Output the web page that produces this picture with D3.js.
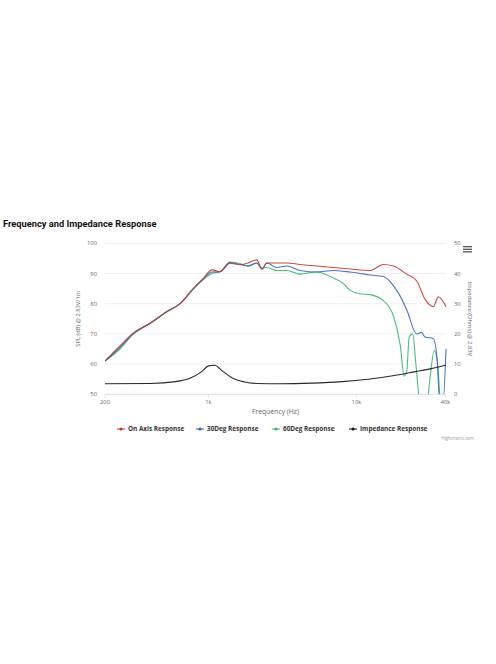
<!DOCTYPE html>
<html><head><meta charset="utf-8">
<script src="https://cdn.jsdelivr.net/npm/d3@7"></script>
<style>body{margin:0;background:#fff;font-family:"Open Sans",sans-serif}</style>
</head><body>
<svg id="c" width="496" height="664"></svg>
<script>
// data
var onFreq = [200,252,311,403,522,643,790,923,1057,1197,1399,1634,1850,2119,2300,2476,2891,3380,4160,5385,6980,9040,12350,15200,17750,21860,25540,29050,33050,35750,40270];
var onVals = [61,66,70.3,73.5,77.4,80,85,88.4,91.2,90.6,93.4,92.9,93.5,94.5,91.5,93.5,93.5,93.5,93,92.5,92,91.5,91,93,92.5,89.8,87.5,81.5,79,82.3,79];
var d30Freq = [200,252,311,403,522,643,790,923,1057,1197,1399,1634,1850,2119,2300,2476,2891,3380,4160,5385,6980,9040,12350,15200,17750,19500,21860,25540,27500,29050,33050,35000,36500,38500,40270];
var d30Vals = [61,65.5,70,73.5,77.3,80,85,88.2,90.5,90.6,93.6,93,92.5,93.5,91.5,93.5,92,92.5,91,90.5,91,90.5,89.5,89,86,83,78,70,70.5,69,68.5,62,48,48,65];
var d60Freq = [200,252,311,403,522,643,790,923,1057,1197,1399,1634,1850,2119,2300,2476,2891,3380,4160,5385,6980,8000,9040,10500,12350,15200,17750,19800,21000,21900,22700,24000,25200,26500,28000,29500,31500,33500,35000,36500];
var d60Vals = [61,65,70,73.5,77.2,80,84.8,88,90,90.6,93.8,93.3,92.5,93.5,91.8,92,91,91,89.8,90.5,88.5,87,84.5,83.3,83,81,76,66,56,58,69,70,60,49,45,45,56,64.5,62,50];
var impFreq = [200,400,600,750,900,1000,1100,1250,1450,1750,2150,3000,5000,8000,12000,18000,25000,32000,40270];
var impVals = [3.5,3.6,4.2,5.3,7.5,9.4,9.6,7.6,5.4,4.1,3.6,3.5,3.7,4.2,5,6.2,7.5,8.5,9.7];
var yTicks = [50,60,70,80,90,100];
var y2Ticks = [0,10,20,30,40,50];
var xTicks = [200,1000,10000,40000];
var xTickLabels = ["200","1k","10k","40k"];
var seriesNames = ["On Axis Response","30Deg Response","60Deg Response","Impedance Response"];
var seriesColors = ["#c0392b","#3b63b8","#3cb371","#111"];

var svg = d3.select("#c");
var L = 105, R = 446, T = 243.3, B = 394.3;
var x = d3.scaleLog().domain([200,40270]).range([L,R]);
var y = d3.scaleLinear().domain([50,100]).range([B,T]);
var y2 = d3.scaleLinear().domain([0,50]).range([B,T]);

svg.append("text").attr("x",3).attr("y",227).attr("font-size",9.3).attr("font-weight","bold")
  .attr("font-family","Roboto, sans-serif").attr("fill","#111").text("Frequency and Impedance Response");

// grid
svg.append("g").selectAll("line").data(yTicks.slice(1)).join("line")
  .attr("x1",L).attr("x2",R).attr("y1",d=>y(d)).attr("y2",d=>y(d)).attr("stroke","#e6e6e6").attr("stroke-width",0.6);
svg.append("line").attr("x1",L).attr("x2",R).attr("y1",B).attr("y2",B).attr("stroke","#ccd6eb").attr("stroke-width",0.8);

var lab = {"font-size":5.8,"fill":"#666"};
function st(sel){for(var k in lab) sel.attr(k,lab[k]); return sel;}
st(svg.append("g").selectAll("text").data(yTicks).join("text")
  .attr("x",L-8).attr("y",d=>y(d)+2).attr("text-anchor","end").text(d=>d));
st(svg.append("g").selectAll("text").data(y2Ticks).join("text")
  .attr("x",R+8).attr("y",d=>y2(d)+2).attr("text-anchor","start").text(d=>d));
st(svg.append("g").selectAll("text").data(xTicks).join("text")
  .attr("x",d=>x(d)).attr("y",B+10).attr("text-anchor","middle").text((d,i)=>xTickLabels[i]));
svg.append("g").selectAll("line").data(xTicks).join("line")
  .attr("x1",d=>x(d)).attr("x2",d=>x(d)).attr("y1",B).attr("y2",B+4).attr("stroke","#ccd6eb").attr("stroke-width",0.6);
st(svg.append("text").attr("x",(L+R)/2).attr("y",B+20).attr("text-anchor","middle")).attr("font-size",6.8).text("Frequency (Hz)");
st(svg.append("text").attr("transform","translate(80,"+(T+B)/2+") rotate(-90)").attr("text-anchor","middle")).text("SPL (dB) @ 2.83V/1m");
st(svg.append("text").attr("transform","translate(468,"+(T+B)/2+") rotate(90)").attr("text-anchor","middle")).text("Impedance (Ohms) @ 2.83V");

// menu icon
svg.append("g").selectAll("rect").data([0,1,2]).join("rect")
  .attr("x",463).attr("y",d=>246+d*2.6).attr("width",9).attr("height",1.3).attr("fill","#555");

svg.append("clipPath").attr("id","clip").append("rect").attr("x",L).attr("y",T-5).attr("width",R-L+1).attr("height",B-T+5);
var g = svg.append("g").attr("clip-path","url(#clip)");
function draw(fr, vals, sc, col){
  var line = d3.line().x(d=>x(d[0])).y(d=>sc(d[1])).curve(d3.curveMonotoneX);
  g.append("path").datum(fr.map((f,i)=>[f,vals[i]])).attr("d",line).attr("fill","none")
    .attr("stroke",col).attr("stroke-width",1.1).attr("opacity",0.9);
}
draw(d60Freq,d60Vals,y,seriesColors[2]);
draw(d30Freq,d30Vals,y,seriesColors[1]);
draw(onFreq,onVals,y,seriesColors[0]);
draw(impFreq,impVals,y2,seriesColors[3]);

// legend
var lx = [117,196,272,349];
var lg = svg.append("g").selectAll("g").data(seriesNames).join("g").attr("transform",(d,i)=>"translate("+lx[i]+",429)");
lg.append("line").attr("x1",0).attr("x2",8).attr("stroke",(d,i)=>seriesColors[i]).attr("stroke-width",1);
lg.append("circle").attr("cx",4).attr("r",1.6).attr("fill",(d,i)=>seriesColors[i]);
lg.append("text").attr("x",11).attr("y",2).attr("font-size",6.4).attr("font-weight","bold").attr("fill","#333").text(d=>d);
svg.append("text").attr("x",474).attr("y",440).attr("text-anchor","end").attr("font-size",4.5).attr("fill","#999").text("Highcharts.com");
</script>
</body></html>
